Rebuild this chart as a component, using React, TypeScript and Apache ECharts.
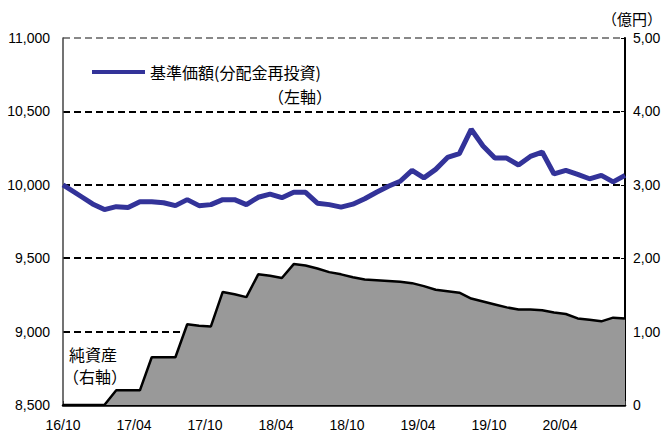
import React, { useEffect, useRef } from "react";
import * as echarts from "echarts";

// Dates: first point is the fund start (16/10), then month-end points
const dates = [
  "16/10", "16/11", "16/12", "17/01", "17/02", "17/03", "17/04", "17/05", "17/06", "17/07",
  "17/08", "17/09", "17/10", "17/11", "17/12", "18/01", "18/02", "18/03", "18/04", "18/05",
  "18/06", "18/07", "18/08", "18/09", "18/10", "18/11", "18/12", "19/01", "19/02", "19/03",
  "19/04", "19/05", "19/06", "19/07", "19/08", "19/09", "19/10", "19/11", "19/12", "20/01",
  "20/02", "20/03", "20/04", "20/05", "20/06", "20/07", "20/08", "20/09",
];

// 基準価額(分配金再投資) (left axis, yen)
const navValues = [
  10000, 9922, 9870, 9831, 9851, 9845, 9885, 9885, 9878, 9858,
  9899, 9858, 9865, 9899, 9899, 9865, 9915, 9936, 9912, 9949,
  9949, 9875, 9865, 9848, 9868, 9905, 9949, 9990, 10024, 10098,
  10047, 10105, 10186, 10213, 10378, 10264, 10182, 10182, 10135, 10193,
  10223, 10074, 10098, 10071, 10041, 10064, 10020, 10064,
];

// 純資産 (right axis)
const netAssets = [
  0, 0, 0, 0, 0.2, 0.2, 0.2, 0.65, 0.65, 0.65,
  1.1, 1.08, 1.07, 1.54, 1.51, 1.47, 1.78, 1.76, 1.73, 1.92,
  1.9, 1.86, 1.81, 1.78, 1.74, 1.71, 1.7, 1.69, 1.68, 1.66,
  1.62, 1.57, 1.55, 1.53, 1.45, 1.41, 1.37, 1.33, 1.3, 1.3,
  1.29, 1.26, 1.24, 1.18, 1.16, 1.14, 1.19, 1.18,
];

const xTickLabels = ["16/10", "17/04", "17/10", "18/04", "18/10", "19/04", "19/10", "20/04"];

const navName = "基準価額(分配金再投資)";
const NUM_FONT = "'Liberation Sans', Arial, sans-serif";
const CJK_FONT = "'Noto Sans CJK JP', sans-serif";

// month offset from 16/10: start point at 0, month-end points at +0.5
function dateToX(d: string, i: number): number {
  const [yy, mm] = d.split("/").map(Number);
  const m = (yy - 16) * 12 + (mm - 10);
  return i === 0 ? m : m + 0.5;
}

export default function App() {
  const ref = useRef<HTMLDivElement>(null);
  useEffect(() => {
    document.body.style.margin = "0";
    const chart = echarts.init(ref.current!, undefined, { renderer: "svg" });
    const xs = dates.map(dateToX);
    const maxX = xs[xs.length - 1];
    chart.setOption({
      animation: false,
      backgroundColor: "#fff",
      grid: { left: 63, right: 40, top: 38, bottom: 24, containLabel: false },
      legend: {
        data: [navName],
        left: 92,
        top: 63,
        icon: "rect",
        itemWidth: 53,
        itemHeight: 4,
        itemGap: 4,
        padding: 0,
        textStyle: { fontFamily: CJK_FONT, fontSize: 16, lineHeight: 18, color: "#000" },
      },
      xAxis: {
        type: "value",
        min: 0,
        max: maxX,
        interval: 6,
        axisLine: { show: true, lineStyle: { color: "#000", width: 2.5 } },
        axisTick: { show: true, inside: true, length: 4, lineStyle: { color: "#333", width: 1 } },
        splitLine: { show: false },
        axisLabel: {
          margin: 13,
          fontFamily: NUM_FONT,
          fontSize: 14,
          color: "#000",
          formatter: (v: number) => {
            const idx = v / 6;
            return Number.isInteger(idx) && xTickLabels[idx] ? xTickLabels[idx] : "";
          },
        },
      },
      yAxis: [
        {
          type: "value",
          min: 8500,
          max: 11000,
          interval: 500,
          axisLine: { show: true, lineStyle: { color: "#444", width: 1.5 } },
          axisTick: { show: false },
          axisLabel: {
            margin: 13,
            fontFamily: NUM_FONT,
            fontSize: 14,
            color: "#000",
            formatter: (v: number) => v.toLocaleString("en-US"),
          },
          splitLine: {
            show: true,
            lineStyle: {
              color: ["#000", "#000", "#000", "#000", "#000", "#888"],
              width: 2,
              type: [7, 4],
            },
          },
        },
        {
          type: "value",
          min: 0,
          max: 5,
          interval: 1,
          position: "right",
          axisLine: { show: true, lineStyle: { color: "#000", width: 2 } },
          axisTick: { show: true, inside: true, length: 4, lineStyle: { color: "#000", width: 1 } },
          axisLabel: {
            margin: 8,
            fontFamily: NUM_FONT,
            fontSize: 14,
            color: "#000",
            formatter: (v: number) => (v === 0 ? "0" : v + ",00"),
          },
          splitLine: { show: false },
        },
      ],
      series: [
        {
          name: "純資産",
          type: "line",
          yAxisIndex: 1,
          symbol: "none",
          data: xs.map((x, i) => [x, netAssets[i]]),
          lineStyle: { color: "#000", width: 2.5 },
          areaStyle: { color: "#999999", opacity: 1 },
          z: 1,
        },
        {
          name: navName,
          type: "line",
          yAxisIndex: 0,
          symbol: "none",
          data: xs.map((x, i) => [x, navValues[i]]),
          lineStyle: { color: "#333399", width: 5 },
          itemStyle: { color: "#333399" },
          z: 3,
        },
      ],
      graphic: [
        {
          type: "text",
          right: 3,
          top: 11,
          style: { text: "（億円）", fontFamily: CJK_FONT, fontSize: 15, fill: "#000" },
        },
        {
          type: "text",
          left: 268,
          top: 88,
          style: { text: "（左軸）", fontFamily: CJK_FONT, fontSize: 16, fill: "#000" },
        },
        {
          type: "text",
          left: 69,
          top: 346,
          style: { text: "純資産", fontFamily: CJK_FONT, fontSize: 16, fill: "#000" },
        },
        {
          type: "text",
          left: 63,
          top: 368,
          style: { text: "（右軸）", fontFamily: CJK_FONT, fontSize: 16, fill: "#000" },
        },
      ],
    });
    return () => chart.dispose();
  }, []);
  return <div ref={ref} style={{ width: 665, height: 432 }} />;
}
